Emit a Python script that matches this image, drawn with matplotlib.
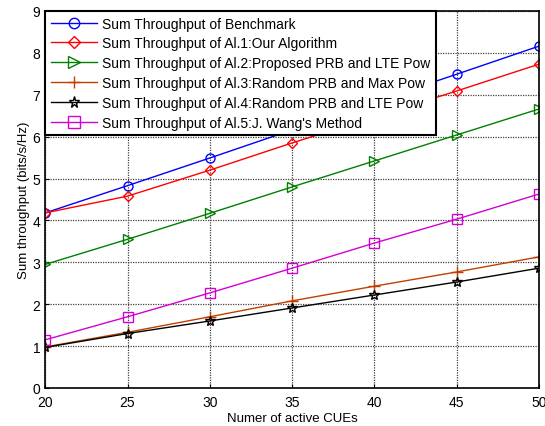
import numpy as np
import matplotlib
matplotlib.use('Agg')
import matplotlib.pyplot as plt

plt.rcParams['font.family'] = ['Liberation Sans', 'DejaVu Sans']

cues = [20, 25, 30, 35, 40, 45, 50]
benchmark = [4.18, 4.83, 5.49, 6.16, 6.83, 7.49, 8.16]
our_alg = [4.18, 4.58, 5.20, 5.85, 6.47, 7.09, 7.73]
prop_lte = [2.95, 3.55, 4.17, 4.80, 5.42, 6.04, 6.66]
rand_max = [0.98, 1.33, 1.70, 2.08, 2.43, 2.77, 3.13]
rand_lte = [0.97, 1.30, 1.60, 1.91, 2.22, 2.53, 2.86]
wang = [1.15, 1.70, 2.27, 2.86, 3.46, 4.03, 4.63]

labels = ['Sum Throughput of Benchmark',
          'Sum Throughput of Al.1:Our Algorithm',
          'Sum Throughput of Al.2:Proposed PRB and LTE Pow',
          'Sum Throughput of Al.3:Random PRB and Max Pow',
          'Sum Throughput of Al.4:Random PRB and LTE Pow',
          "Sum Throughput of Al.5:J. Wang's Method"]

fig = plt.figure(figsize=(5.45, 4.27), dpi=100)
ax = fig.add_axes([0.083, 0.089, 0.906, 0.883])

ax.plot(cues, benchmark, color='#0000ff', lw=1, marker='o', ms=6.5, mfc='none', label=labels[0])
ax.plot(cues, our_alg, color='#ff0000', lw=1, marker='D', ms=5.5, mfc='none', label=labels[1])
ax.plot(cues, prop_lte, color='#008000', lw=1, marker='>', ms=7.5, mfc='none', label=labels[2])
ax.plot(cues, rand_max, color='#c04000', lw=1, marker='+', ms=8, label=labels[3])
ax.plot(cues, rand_lte, color='#000000', lw=1, marker='*', ms=7, mfc='none', label=labels[4])
ax.plot(cues, wang, color='#d400d4', lw=1, marker='s', ms=7, mfc='none', label=labels[5])

ax.set_xlim(20, 50)
ax.set_ylim(0, 9)
ax.set_xticks(np.arange(20, 51, 5))
ax.set_yticks(np.arange(0, 10, 1))
ax.grid(True, linestyle=(0, (1, 1)), color='#404040', lw=0.9)
ax.tick_params(direction='in', labelsize=10, length=3)
ax.tick_params(axis='x', pad=5)
for s in ax.spines.values():
    s.set_linewidth(1.2)
ax.set_xlabel('Numer of active CUEs', fontsize=9.5, labelpad=2)
ax.set_ylabel('Sum throughput (bits/s/Hz)', fontsize=9.5, labelpad=2)

leg = ax.legend(loc='upper left', fontsize=10, borderaxespad=0, fancybox=False,
                framealpha=1, edgecolor='black', handlelength=3.3,
                labelspacing=0.42, borderpad=0.4, handletextpad=0.4,
                markerscale=1.15)
leg.get_frame().set_linewidth(1.5)

fig.savefig('out.png', dpi=100)
